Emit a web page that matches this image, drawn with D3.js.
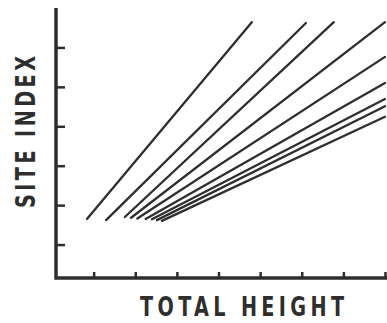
<!DOCTYPE html>
<html>
<head>
<meta charset="utf-8">
<script src="https://cdn.jsdelivr.net/npm/d3@7"></script>
<style>
  body { margin: 0; background: #fff; }
  svg { display: block; }
</style>
</head>
<body>
<div id="chart"></div>
<script>
// site index vs total height, one straight line per curve (start/end in axis units)
const startX = [0.84, 1.30, 1.75, 1.90, 2.05, 2.25, 2.40, 2.52, 2.64];
const startY = [1.65, 1.62, 1.70, 1.68, 1.66, 1.65, 1.64, 1.62, 1.60];
const endX   = [4.80, 6.10, 6.77, 8.00, 8.00, 8.00, 8.00, 8.00, 8.00];
const endY   = [6.64, 6.62, 6.64, 6.64, 5.76, 5.10, 4.69, 4.51, 4.24];
const xTicks = [1, 2, 3, 4, 5, 6, 7, 8];
const yTicks = [1, 2, 3, 4, 5, 6];

const width = 387, height = 323;
const axisX = 56, axisY = 278;

const x = d3.scaleLinear().domain([0, 8]).range([52, 385]);
const y = d3.scaleLinear().domain([0, 7]).range([284, 8]);

const svg = d3.select('#chart')
  .append('svg')
  .attr('width', width)
  .attr('height', height);

const ink = '#2e2e2e';

// curves
const lines = startX.map((d, i) => [[d, startY[i]], [endX[i], endY[i]]]);
const line = d3.line().x(d => x(d[0])).y(d => y(d[1]));

svg.selectAll('.curve')
  .data(lines)
  .enter()
  .append('path')
  .attr('class', 'curve')
  .attr('d', line)
  .attr('fill', 'none')
  .attr('stroke', ink)
  .attr('stroke-width', 2.3)
  .attr('stroke-linecap', 'round');

// axes: ticks point inward
const xAxis = svg.append('g')
  .attr('transform', `translate(0,${axisY})`)
  .call(d3.axisBottom(x).tickValues(xTicks).tickSizeInner(-6).tickSizeOuter(0).tickFormat(''));
const yAxis = svg.append('g')
  .attr('transform', `translate(${axisX},0)`)
  .call(d3.axisLeft(y).tickValues(yTicks).tickSizeInner(-9).tickSizeOuter(0).tickFormat(''));

[xAxis, yAxis].forEach(g => {
  g.select('.domain').remove();
  g.selectAll('.tick line').attr('stroke', ink).attr('stroke-width', 2.5);
});

svg.append('path')
  .attr('d', `M${axisX},8 V${axisY} H387`)
  .attr('fill', 'none')
  .attr('stroke', ink)
  .attr('stroke-width', 3.5);

// labels: squeezed horizontally to get the narrow lettering
const squeeze = 0.74;
const labelStyle = s => s
  .attr('font-family', "'DejaVu Sans', sans-serif")
  .attr('font-weight', 'bold')
  .attr('font-size', 26)
  .attr('fill', ink)
  .attr('text-anchor', 'middle')
  .attr('lengthAdjust', 'spacing');

svg.append('text')
  .attr('transform', `translate(242,316) scale(${squeeze},1)`)
  .attr('textLength', 204 / squeeze)
  .call(labelStyle)
  .text('TOTAL HEIGHT');

svg.append('text')
  .attr('transform', `translate(35,132) rotate(-90) scale(${squeeze},1)`)
  .attr('textLength', 152 / squeeze)
  .call(labelStyle)
  .text('SITE INDEX');
</script>
</body>
</html>
